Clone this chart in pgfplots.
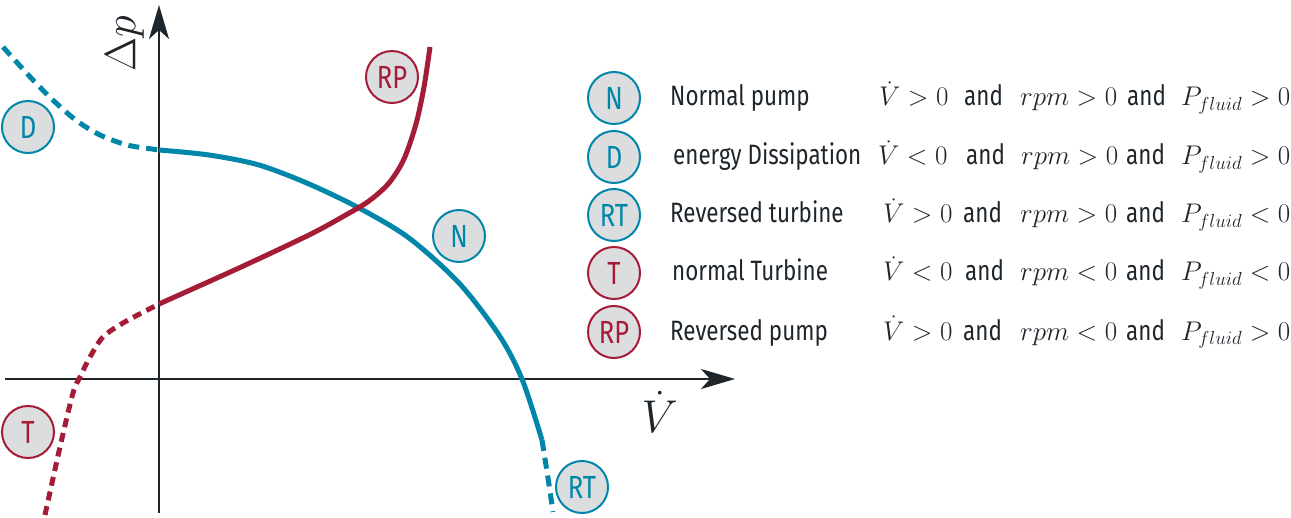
\RequirePackage{fix-cm}
\documentclass[border=0pt]{standalone}
\usepackage{fontspec}
\setmainfont{Fira Sans}[FakeStretch=0.8]
\usepackage{pgfplots}
\pgfplotsset{compat=1.18}
\usetikzlibrary{arrows.meta}
\definecolor{cblue}{HTML}{0086A8}
\definecolor{cred}{HTML}{A51C36}
\definecolor{cfill}{HTML}{DCDDDF}
\definecolor{cax}{HTML}{1E252B}
\newcommand{\txtf}{\fontsize{28}{32}\selectfont}
\newcommand{\mathf}{\fontsize{27}{30}\selectfont}
\tikzset{
  circ/.style={circle, draw=#1, fill=cfill, line width=2pt, minimum size=52pt,
    inner sep=0pt, text=#1, font=\fontsize{32}{32}\selectfont},
  lt/.style={anchor=base west, text=cax, font=\txtf, inner sep=0pt},
  lm/.style={anchor=base west, text=cax, font=\mathf, inner sep=0pt},
}
\begin{document}
\begin{tikzpicture}
\begin{axis}[
  width=730pt, height=508pt, scale only axis,
  xmin=-154, xmax=576, ymin=-134, ymax=374,
  axis lines=middle,
  axis line style={cax, line width=2.4pt, -{Stealth[length=34pt,width=20pt,inset=9pt]}},
  xtick=\empty, ytick=\empty,
  clip=false,
  xlabel={$\dot V$}, ylabel={$\Delta p$},
  xlabel style={at={(axis description cs:0.897,0.199)}, anchor=center,
    font=\fontsize{46}{50}\selectfont, text=cax},
  ylabel style={at={(axis description cs:0.164,0.923)}, anchor=center, rotate=90,
    font=\fontsize{44}{50}\selectfont, text=cax},
]
\path (axis cs:-159,-137) rectangle (axis cs:1132,379);
% D: energy dissipation (dashed)
\addplot[cblue, line width=5pt, smooth, dash pattern=on 11pt off 7pt] coordinates {
 (-156,332) (-126,299) (-104,277) (-82,258) (-59,244) (-32,234) (-7,230) (0,229)};
% N: normal pump
\addplot[cblue, line width=5pt, smooth] coordinates {
 (0,229) (50,224) (100,214) (150,195) (200,171) (250,141) (300,96) (340,44) (363,0) (383,-61)};
% RT: reversed turbine (dashed)
\addplot[cblue, line width=5pt, smooth, dash pattern=on 11pt off 7pt] coordinates {
 (383,-61) (389,-99) (394,-133)};
% T: normal turbine (dashed)
\addplot[cred, line width=5pt, smooth, dash pattern=on 9pt off 6pt] coordinates {
 (-114,-136) (-99,-68) (-86,-14) (-79,2) (-69,22) (-56,42) (-36,56) (-2,74) (0,75)};
% RP: reversed pump
\addplot[cred, line width=5pt, smooth] coordinates {
 (0,75) (80,111) (150,144) (185,163) (210,178) (230,196) (245,220) (257,255) (265,292) (271,332)};
% region markers
\node[circ=cblue] at (axis cs:-131,252) {D};
\node[circ=cred]  at (axis cs:233,302) {RP};
\node[circ=cblue] at (axis cs:300,143) {N};
\node[circ=cblue] at (axis cs:423,-108) {RT};
\node[circ=cred]  at (axis cs:-131,-53) {T};
% legend
\node[circ=cblue] at (axis cs:455,281) {N};
\node[circ=cblue] at (axis cs:455,222) {D};
\node[circ=cblue] at (axis cs:455,164) {RT};
\node[circ=cred]  at (axis cs:455,106) {T};
\node[circ=cred]  at (axis cs:455,47)  {RP};
\node[lt] at (axis cs:511,273) {Normal pump};
\node[lt] at (axis cs:514,214) {energy Dissipation};
\node[lt] at (axis cs:511,156) {Reversed turbine};
\node[lt] at (axis cs:513,98)  {normal Turbine};
\node[lt] at (axis cs:511,39)  {Reversed pump};
% conditions
\node[lm] at (axis cs:720,273) {$\dot V>0$};
\node[lm] at (axis cs:719,214) {$\dot V<0$};
\node[lm] at (axis cs:724,156) {$\dot V>0$};
\node[lm] at (axis cs:724,98)  {$\dot V<0$};
\node[lm] at (axis cs:724,39)  {$\dot V>0$};
\node[lt] at (axis cs:805,273) {and};
\node[lt] at (axis cs:807,214) {and};
\node[lt] at (axis cs:804,156) {and};
\node[lt] at (axis cs:806,98)  {and};
\node[lt] at (axis cs:804,39)  {and};
\node[lm] at (axis cs:861,273) {$rpm>0$};
\node[lm] at (axis cs:862,214) {$rpm>0$};
\node[lm] at (axis cs:861,156) {$rpm>0$};
\node[lm] at (axis cs:861,98)  {$rpm<0$};
\node[lm] at (axis cs:861,39)  {$rpm<0$};
\node[lt] at (axis cs:968,273) {and};
\node[lt] at (axis cs:967,214) {and};
\node[lt] at (axis cs:967,156) {and};
\node[lt] at (axis cs:967,98)  {and};
\node[lt] at (axis cs:967,39)  {and};
\node[lm] at (axis cs:1022,273) {$P_{fluid}>0$};
\node[lm] at (axis cs:1022,214) {$P_{fluid}>0$};
\node[lm] at (axis cs:1022,156) {$P_{fluid}<0$};
\node[lm] at (axis cs:1022,98)  {$P_{fluid}<0$};
\node[lm] at (axis cs:1022,39)  {$P_{fluid}>0$};
\end{axis}
\end{tikzpicture}
\end{document}
